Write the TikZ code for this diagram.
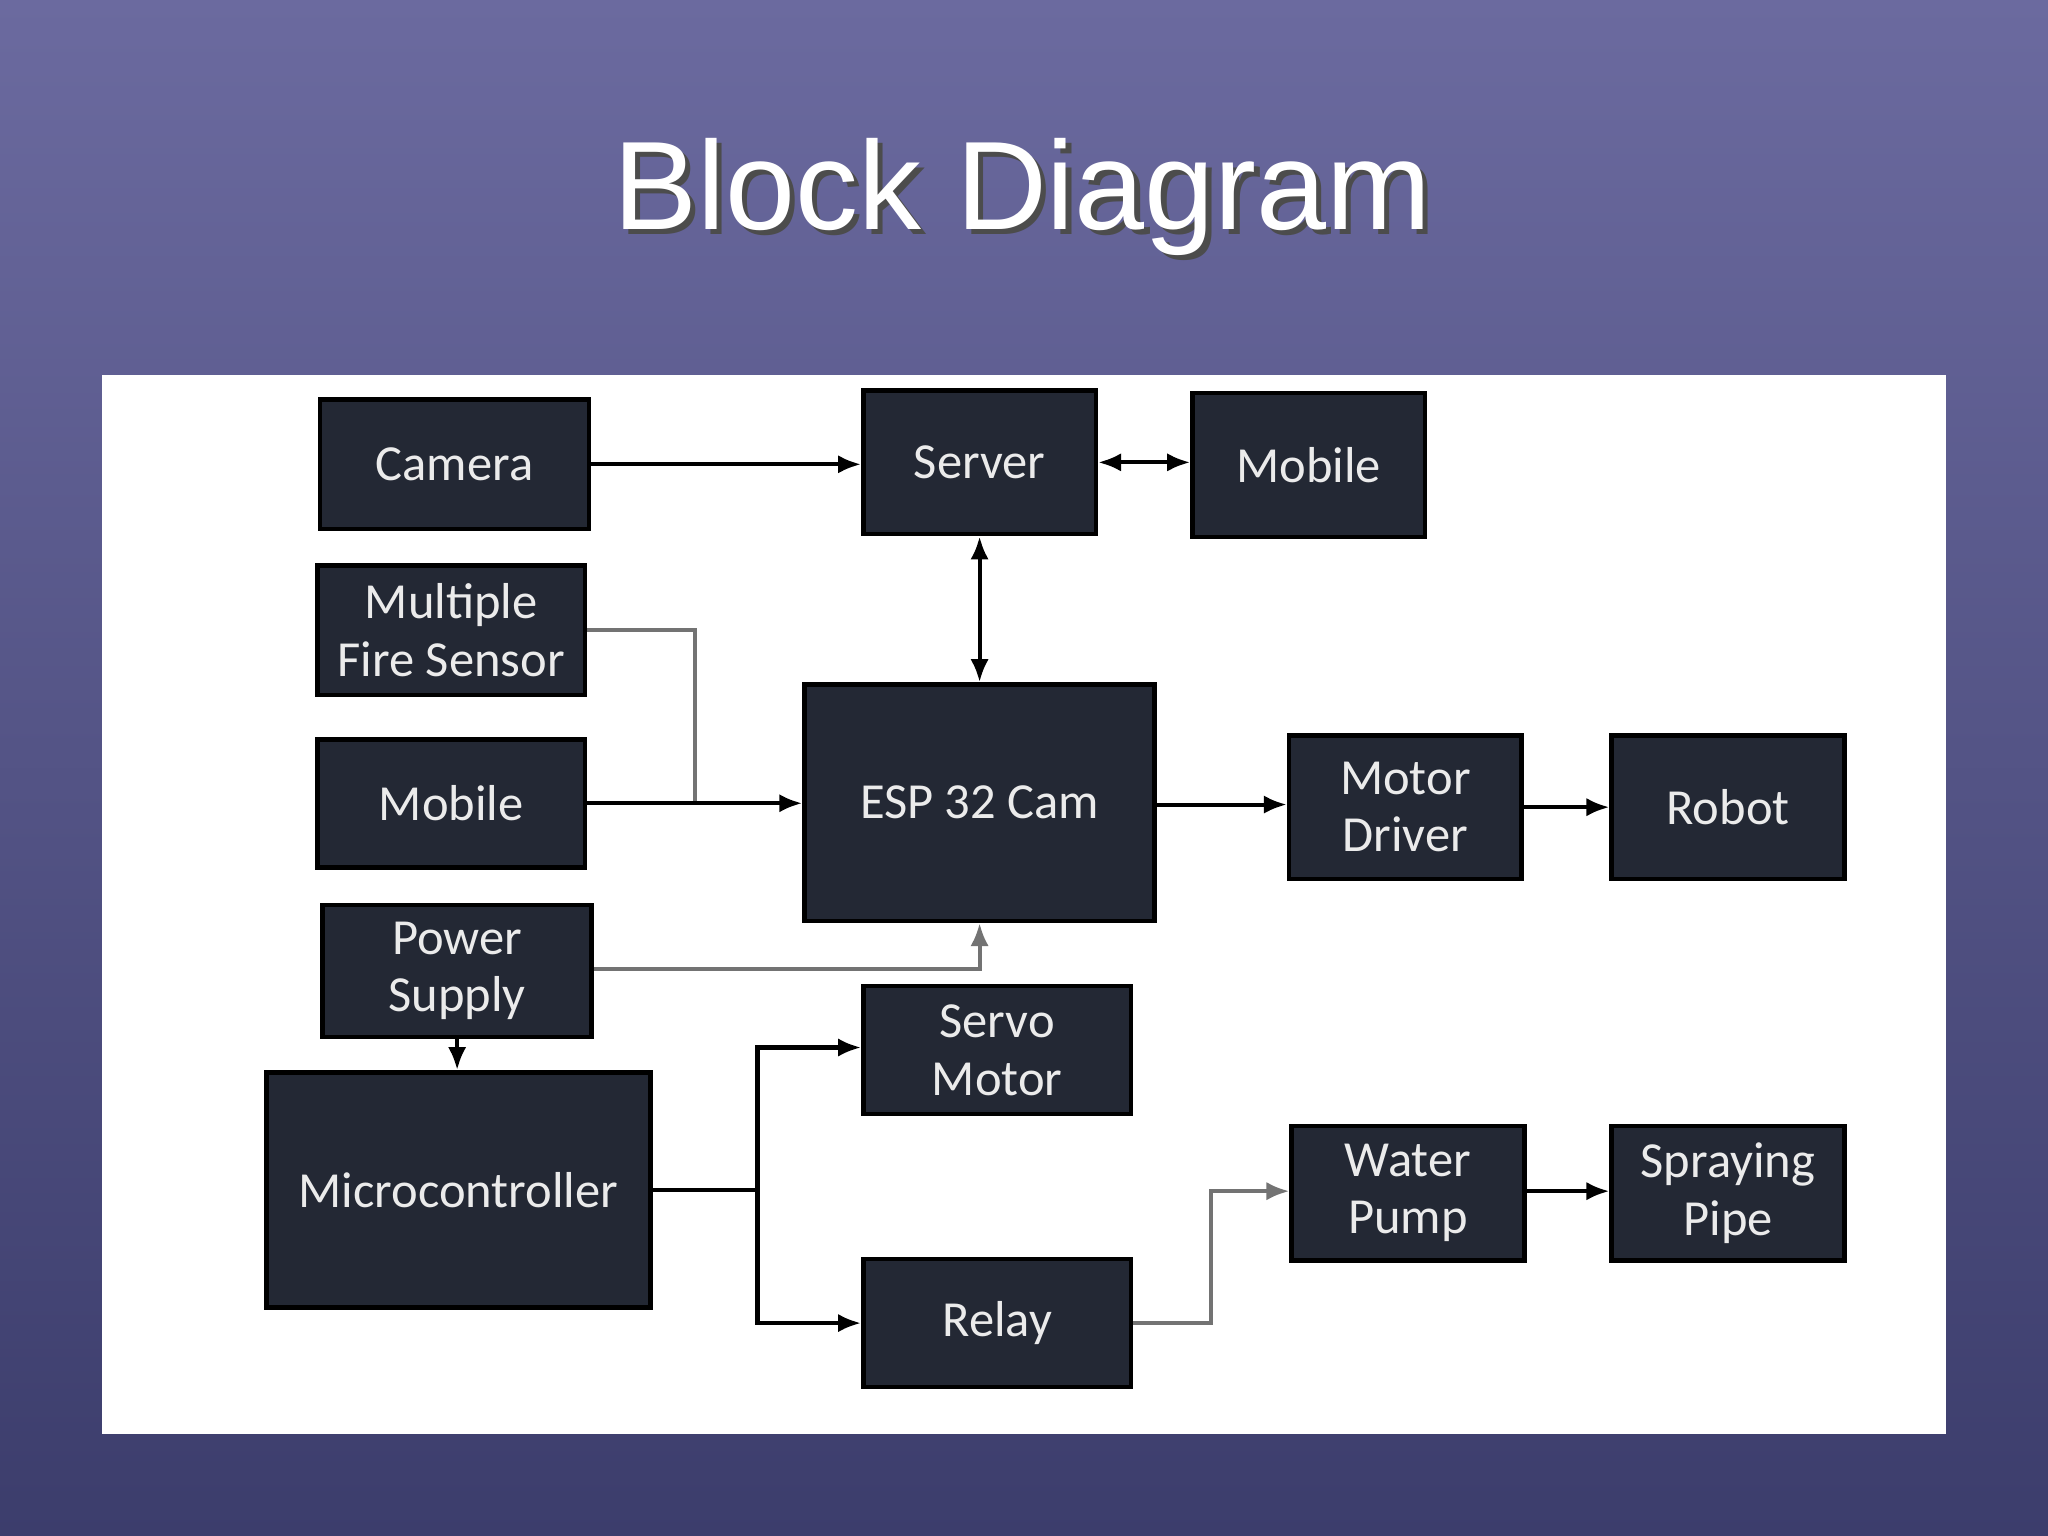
\documentclass[tikz,border=0pt]{standalone}
\usepackage{fontspec}
\setmainfont{Carlito}
\newfontfamily\titlefont{Liberation Sans}
\usetikzlibrary{arrows.meta}
\definecolor{boxfill}{HTML}{232834}
\definecolor{bgtop}{HTML}{6B6A9F}
\definecolor{bgbot}{HTML}{3C3D6C}
\tikzset{
  blk/.style={draw=black, line width=1pt, fill=boxfill, text=white!92!black,
    font=\fontsize{11}{12.5}\selectfont, align=center, inner sep=0pt},
  arr/.style={-{Latex[length=5pt,width=4pt]}, line width=0.9pt},
  biarr/.style={{Latex[length=5pt,width=4pt]}-{Latex[length=5pt,width=4pt]}, line width=0.9pt},
  garr/.style={arr, draw=black!55},
  gline/.style={line width=0.9pt, draw=black!55},
}
% box from pixel corners
\newcommand{\blkbox}[6]{%
  \node[blk, minimum width={(#4-#2)*0.01cm}, minimum height={(#5-#3)*0.01cm}]
    (#1) at ({(#2+#4)/2},{(#3+#5)/2}) {#6};}
\begin{document}
\begin{tikzpicture}[x=0.01cm,y=-0.01cm]
\shade[top color=bgtop, bottom color=bgbot] (0,0) rectangle (1568,1176);
\useasboundingbox (0,0) rectangle (1568,1176);
\node[text=black!70, font=\titlefont\fontsize{27.4}{30}\selectfont] at (787,155) {Block Diagram};
\node[text=white, font=\titlefont\fontsize{27.4}{30}\selectfont] (title) at (783,151) {Block Diagram};
\fill[white] (78,287) rectangle (1490,1098);

\blkbox{camera}{245}{306}{451}{405}{Camera}
\blkbox{server}{661}{299}{839}{409}{Server}
\blkbox{mobtop}{913}{301}{1091}{411}{Mobile}
\blkbox{fire}{243}{433}{448}{532}{Multiple\\Fire Sensor}
\blkbox{mobleft}{243}{566}{448}{664}{Mobile}
\blkbox{esp}{616}{524}{884}{705}{ESP 32 Cam}
\blkbox{motor}{987}{563}{1165}{673}{Motor\\Driver}
\blkbox{robot}{1234}{563}{1412}{673}{Robot}
\blkbox{power}{247}{693}{453}{794}{Power\\Supply}
\blkbox{micro}{204}{821}{498}{1001}{Microcontroller}
\blkbox{servo}{661}{755}{866}{853}{Servo\\Motor}
\blkbox{relay}{661}{964}{866}{1062}{Relay}
\blkbox{pump}{989}{862}{1167}{965}{Water\\Pump}
\blkbox{pipe}{1234}{862}{1412}{965}{Spraying\\Pipe}

\draw[arr] (camera.east) -- (server.west |- camera.east);
\draw[biarr] (server.east) -- (mobtop.west |- server.east);
\draw[biarr] (server.south) -- (esp.north);
\coordinate (join) at (532,615);
\draw[gline] (fire.east) -| (join);
\draw[arr] (mobleft.east |- join) -- (esp.west |- join);
\draw[arr] (esp.east |- 0,616) -- (motor.west |- 0,616);
\draw[arr] (motor.east) -- (robot.west);
\draw[garr] (power.east |- 0,742) -| (esp.south);
\draw[arr] (power.south) -- (micro.north -| power.south);
\coordinate (split) at (580,911);
\draw[line width=0.9pt] (micro.east |- split) -- (split);
\draw[arr] (split) |- (servo.west |- 0,802);
\draw[arr] (split) |- (relay.west);
\draw[garr] (relay.east) -| (927,912) -- (pump.west |- 0,912);
\draw[arr] (pump.east |- 0,912) -- (pipe.west |- 0,912);
\end{tikzpicture}
\end{document}
